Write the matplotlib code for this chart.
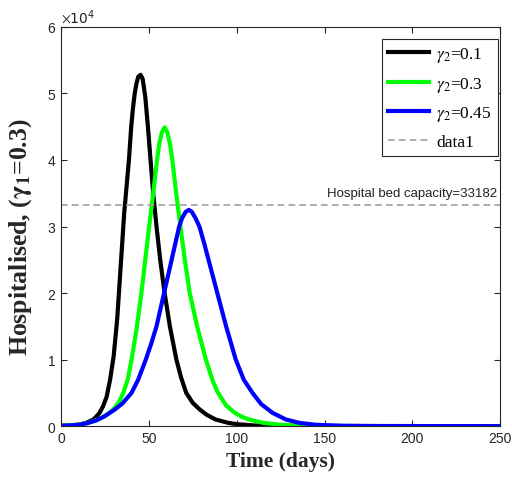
import numpy as np
import matplotlib
matplotlib.use("Agg")
import matplotlib.pyplot as plt

plt.rcParams['mathtext.fontset'] = 'stix'

# hospitalised curves (days, persons)
days_g01 = [0, 5, 10, 14, 18.5, 20, 22, 24, 26, 28, 30, 32, 34, 36, 38.7, 40, 41, 42, 43, 44, 45.3,
            46.5, 48, 49.5, 51, 52.5, 54.4, 56.5, 59, 62, 65.7, 68.5, 71.3, 75, 79, 83, 88, 95, 100,
            110, 120, 140, 250]
hosp_g01 = [60, 100, 200, 450, 1000, 1400, 2000, 3000, 4400, 7000, 10500, 16000, 24000, 32000, 40000,
            45000, 47800, 50000, 51500, 52500, 52800, 52200, 49500, 45000, 40000, 35000, 30000, 25000,
            20000, 15000, 10000, 7200, 5000, 3500, 2500, 1700, 1000, 500, 300, 100, 40, 10, 0]

days_g03 = [0, 5, 10, 15, 21.3, 25, 29.8, 33, 35.5, 38, 40.2, 43, 45.8, 48, 50.2, 52.5, 54.7, 56, 57.5,
            59, 60.5, 62, 63.4, 65.6, 68, 70.5, 73.3, 77.5, 82.5, 86.4, 89, 94, 99, 103, 107, 115, 125,
            140, 160, 250]
hosp_g03 = [60, 120, 250, 450, 1000, 1500, 2500, 3600, 5000, 7000, 10000, 14500, 20000, 25000, 30000,
            35000, 40000, 42500, 44200, 44900, 44200, 42500, 40000, 35000, 30000, 25000, 20000, 15000,
            10000, 6800, 5200, 3100, 2000, 1400, 1000, 500, 200, 60, 15, 0]

days_g045 = [0, 5, 10, 15, 20, 25, 30.7, 35, 40.2, 44, 48.3, 51.5, 54.4, 58.7, 63, 67.3, 69, 71, 72.8,
             74.5, 76.5, 78.8, 81.5, 84, 86.5, 89, 94, 99.5, 104, 109, 114, 120.4, 128, 135.5, 145, 160,
             180, 250]
hosp_g045 = [50, 100, 200, 450, 850, 1500, 2500, 3400, 5000, 7000, 10000, 12500, 15000, 20000, 25000,
             30000, 31300, 32200, 32500, 32200, 31300, 30000, 27500, 25000, 22500, 20000, 15000, 10000,
             7000, 5000, 3300, 2000, 1000, 500, 200, 60, 15, 0]

bed_capacity = 33182

fig = plt.figure(figsize=(5.12, 4.81), dpi=100)
ax = fig.add_axes([0.119, 0.112, 0.858, 0.830])

ax.plot(days_g01, hosp_g01, color='black', lw=3, solid_joinstyle='round', label=r'$\gamma_2$=0.1')
ax.plot(days_g03, hosp_g03, color='#00ff00', lw=3, solid_joinstyle='round', label=r'$\gamma_2$=0.3')
ax.plot(days_g045, hosp_g045, color='blue', lw=3, solid_joinstyle='round', label=r'$\gamma_2$=0.45')
ax.axhline(bed_capacity, color='#a0a0a0', ls='--', lw=1.2, dashes=(4, 2.5), label='data1')
ax.text(248, bed_capacity + 1000, 'Hospital bed capacity=' + str(bed_capacity), ha='right', va='bottom',
        fontsize=9.5, family='Liberation Sans', color='#222222')

ax.set_xlim(0, 250)
ax.set_ylim(0, 60000)
ax.set_xticks([0, 50, 100, 150, 200, 250])
ax.set_yticks([0, 10000, 20000, 30000, 40000, 50000, 60000])
ax.ticklabel_format(axis='y', style='sci', scilimits=(4, 4), useMathText=True)
ax.tick_params(direction='in', top=True, right=True, labelsize=10, colors='#262626', length=4)
for lab in ax.get_xticklabels() + ax.get_yticklabels():
    lab.set_family('Liberation Sans')
ax.yaxis.get_offset_text().set_fontsize(10)
for s in ax.spines.values():
    s.set_color('#262626')

ax.set_xlabel('Time (days)', fontsize=15.5, fontweight='bold', family='Liberation Serif', color='#262626')
ax.set_ylabel(r'Hospitalised, ($\mathbf{\gamma_1}$=0.3)', fontsize=18.5, fontweight='bold',
              family='Liberation Serif', color='#262626')
ax.yaxis.set_label_coords(-0.062, 0.475)

leg = ax.legend(loc='upper right', bbox_to_anchor=(0.995, 0.970), borderaxespad=0,
                prop={'family': 'Liberation Serif', 'size': 12.5}, handlelength=2.4, labelspacing=0.62,
                handletextpad=0.4, borderpad=0.35, fancybox=False, edgecolor='#262626', framealpha=1)
leg.get_frame().set_linewidth(0.8)

fig.savefig('out.png', dpi=100)
